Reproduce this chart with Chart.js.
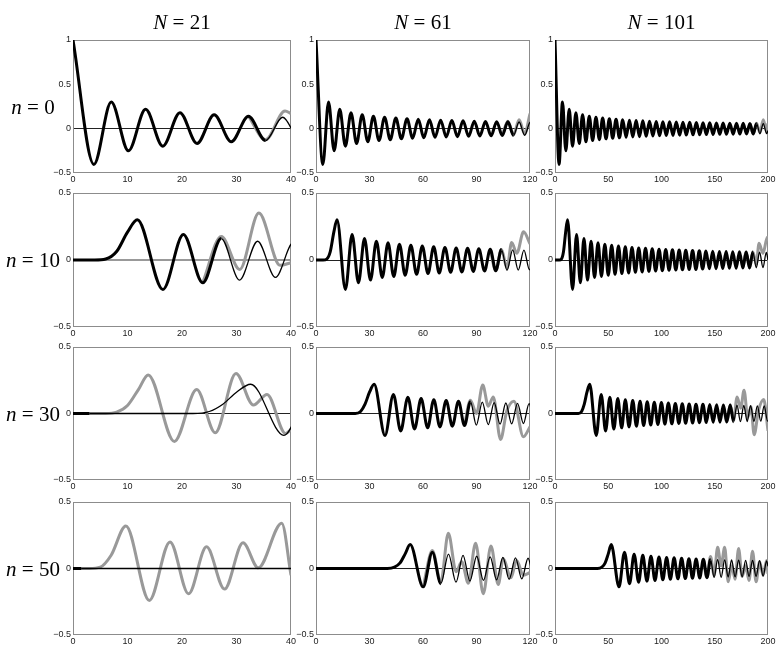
<!DOCTYPE html>
<html>
<head>
<meta charset="utf-8">
<script src="https://cdn.jsdelivr.net/npm/chart.js@4.4.1/dist/chart.umd.min.js"></script>
<style>
  body { margin: 0; background: #fff; width: 781px; height: 652px; position: relative; overflow: hidden; }
  canvas { position: absolute; }
  .lbl { position: absolute; font-family: "Liberation Serif", "DejaVu Serif", serif; font-size: 21px; color: #000; white-space: nowrap; transform: translate(-50%, -50%); }
  .lbl i { font-style: italic; }
</style>
</head>
<body>
<script>
// ------------------------
// Data: exact curves (black), read at their peaks / troughs
// ------------------------
const order0X = [0, 3.83, 7.02, 10.17, 13.32, 16.47, 19.62, 22.76, 25.9, 29.05, 32.19, 35.33, 38.47, 41.62, 44.76, 47.9, 51.04, 54.19, 57.33, 60.47, 63.61, 66.75, 69.9, 73.04, 76.18, 79.32, 82.46, 85.6, 88.75, 91.89, 95.03, 98.17, 101.31, 104.45, 107.6, 110.74, 113.88, 117.02, 120.16, 123.3, 126.45, 129.59, 132.73, 135.87, 139.01, 142.16, 145.3, 148.44, 151.58, 154.72, 157.86, 161.01, 164.15, 167.29, 170.43, 173.57, 176.72, 179.86, 183, 186.14, 189.28, 192.42, 195.57, 198.71, 200];
const order0Y = [1, -0.403, 0.3, -0.25, 0.218, -0.197, 0.18, -0.167, 0.157, -0.148, 0.141, -0.134, 0.129, -0.124, 0.119, -0.115, 0.112, -0.108, 0.105, -0.103, 0.1, -0.098, 0.095, -0.093, 0.091, -0.09, 0.088, -0.086, 0.085, -0.083, 0.082, -0.081, 0.079, -0.078, 0.077, -0.076, 0.075, -0.074, 0.073, -0.072, 0.071, -0.07, 0.069, -0.069, 0.068, -0.067, 0.066, -0.066, 0.065, -0.064, 0.064, -0.063, 0.062, -0.062, 0.061, -0.061, 0.06, -0.06, 0.059, -0.059, 0.058, -0.058, 0.057, -0.057, -0.02];

const order10X = [0, 4, 6, 8, 10, 11.8, 16.5, 20.25, 23.8, 27.2, 30.55, 33.87, 37.15, 40.4, 43.6, 46.8, 50, 53.2, 56.4, 59.6, 62.8, 66, 69.1, 72.3, 75.5, 78.6, 81.8, 85, 88.2, 91.3, 94.5, 97.7, 100.8, 104, 107.1, 110.3, 113.4, 116.6, 119.7, 122.8, 126, 129.2, 132.3, 135.5, 138.6, 141.8, 144.9, 148.1, 151.2, 154.4, 157.5, 160.7, 163.8, 166.9, 170.1, 173.2, 176.4, 179.5, 182.7, 185.8, 189, 192.1, 195.3, 198.4, 200];
const order10Y = [0, 0, 0.007, 0.063, 0.208, 0.3, -0.22, 0.19, -0.17, 0.16, -0.15, 0.14, -0.13, 0.128, -0.123, 0.118, -0.114, 0.11, -0.107, 0.104, -0.101, 0.099, -0.097, 0.094, -0.092, 0.09, -0.089, 0.087, -0.085, 0.084, -0.082, 0.081, -0.08, 0.078, -0.077, 0.076, -0.075, 0.074, -0.073, 0.072, -0.071, 0.07, -0.07, 0.069, -0.068, 0.067, -0.066, 0.066, -0.065, 0.064, -0.064, 0.063, -0.062, 0.062, -0.061, 0.061, -0.06, 0.06, -0.059, 0.059, -0.058, 0.058, -0.057, 0.057, 0];

const order30X = [0, 3, 22, 25, 27.5, 30, 32.6, 38.7, 43.4, 47.5, 51.5, 55.25, 58.95, 62.6, 66.05, 69.5, 73, 76.45, 79.9, 83.25, 86.6, 89.9, 93.25, 96.6, 99.9, 103.2, 106.45, 109.7, 113, 116.3, 119.5, 122.7, 126, 129.2, 132.4, 135.6, 138.9, 142.1, 145.3, 148.5, 151.75, 154.9, 158.1, 161.3, 164.5, 167.7, 170.9, 174.1, 177.3, 180.45, 183.6, 186.8, 190, 193.2, 196.4, 199.6, 200];
const order30Y = [0, 0, 0, 0.015, 0.07, 0.16, 0.22, -0.165, 0.143, -0.131, 0.123, -0.117, 0.112, -0.108, 0.104, -0.101, 0.098, -0.095, 0.093, -0.091, 0.089, -0.087, 0.085, -0.083, 0.082, -0.08, 0.079, -0.078, 0.076, -0.075, 0.074, -0.073, 0.072, -0.071, 0.07, -0.069, 0.069, -0.068, 0.067, -0.066, 0.065, -0.065, 0.064, -0.063, 0.063, -0.062, 0.062, -0.061, 0.06, -0.06, 0.059, -0.059, 0.058, -0.058, 0.057, -0.057, -0.052];

const order50X = [0, 1.5, 40, 44, 47, 50, 52.8, 60.1, 65.25, 70, 74.3, 78.5, 82.45, 86.3, 90.1, 93.9, 97.65, 101.27, 104.8, 108.3, 111.85, 115.4, 118.9, 122.37, 125.75, 129.1, 132.5, 135.9, 139.3, 142.7, 146, 149.4, 152.7, 156, 159.3, 162.6, 165.8, 169.1, 172.4, 175.7, 179, 182.2, 185.5, 188.8, 192.1, 195.4, 198.7, 200];
const order50Y = [0, 0, 0, 0.01, 0.04, 0.11, 0.18, -0.138, 0.123, -0.114, 0.108, -0.103, 0.099, -0.095, 0.092, -0.09, 0.087, -0.085, 0.083, -0.081, 0.08, -0.078, 0.077, -0.076, 0.074, -0.073, 0.072, -0.071, 0.07, -0.069, 0.068, -0.067, 0.066, -0.066, 0.065, -0.064, 0.064, -0.063, 0.062, -0.062, 0.061, -0.06, 0.06, -0.059, 0.059, -0.058, 0.058, 0.016];

// ------------------------
// Data: approximations (gray), where they part from the black curve
// ------------------------
const approx0N21X = [32.19, 35.33, 38.9, 40];
const approx0N21Y = [0.141, -0.125, 0.2, 0.17];
const approx0N61X = [104.45, 107.6, 110.74, 113.88, 117.02, 120];
const approx0N61Y = [-0.078, 0.085, -0.07, 0.1, -0.06, 0.17];
const approx0N101X = [183, 186.14, 189.28, 192.42, 195.57, 198.71, 200];
const approx0N101Y = [0.059, -0.059, 0.06, -0.045, 0.1, -0.03, 0.06];

const approx10N21X = [23.8, 27.2, 30.6, 34.1, 38, 40];
const approx10N21Y = [-0.17, 0.175, -0.07, 0.35, -0.04, -0.02];
const approx10N61X = [97.7, 100.8, 104, 107.1, 109.7, 112.6, 116.4, 120];
const approx10N61Y = [0.081, -0.08, 0.078, -0.06, 0.13, 0.05, 0.21, 0.12];
const approx10N101X = [176.4, 179.5, 182.7, 185.8, 189, 191.6, 195.3, 199.4, 200];
const approx10N101Y = [-0.06, 0.06, -0.059, 0.059, -0.03, 0.125, 0.05, 0.17, 0.14];

const approx30N21X = [0, 6, 8, 10, 12, 13.8, 18.6, 22.7, 26.1, 29.9, 33.1, 35.6, 39, 40];
const approx30N21Y = [0, 0, 0.01, 0.06, 0.18, 0.29, -0.21, 0.18, -0.145, 0.3, 0.063, 0.143, -0.15, -0.12];
const approx30N61X = [83.25, 86.6, 90, 93.5, 96.6, 99.4, 103.5, 107, 111, 116.3, 120];
const approx30N61Y = [-0.091, 0.1, 0, 0.215, 0.055, 0.125, -0.195, 0.02, 0.093, -0.175, -0.1];
const approx30N101X = [158.1, 161.3, 164.5, 167.7, 171, 174.4, 177.5, 181, 184, 187, 191, 196, 200];
const approx30N101Y = [0.064, -0.063, 0.063, -0.05, 0.125, 0.04, 0.175, -0.03, 0.05, -0.16, 0.02, 0.105, -0.13];

const approx50N21X = [0, 3, 5, 7, 9.7, 14, 17.8, 21.2, 24.5, 27.8, 31.2, 34, 38.3, 40];
const approx50N21Y = [0, 0, 0.01, 0.1, 0.32, -0.24, 0.2, -0.19, 0.163, -0.155, 0.193, 0.005, 0.34, -0.05];
const approx50N61X = [60.1, 65.25, 70, 74.2, 78.6, 81.7, 85.4, 89.5, 93.8, 98.1, 102.2, 105, 109.3, 112.5, 116.3, 120];
const approx50N61Y = [-0.138, 0.135, -0.1, 0.265, -0.025, 0.05, -0.11, 0.19, -0.19, 0.17, -0.12, 0.075, -0.07, 0.06, -0.05, -0.03];
const approx50N101X = [139.3, 142.7, 146, 149.4, 152.7, 156, 159.3, 162.6, 166, 169.1, 172.4, 175.7, 179, 182.2, 185.5, 188.8, 192.1, 195.4, 198.7, 200];
const approx50N101Y = [0.07, -0.069, 0.09, -0.05, 0.16, 0.02, 0.16, -0.1, 0.02, -0.08, 0.15, -0.06, 0.02, -0.09, 0.13, -0.1, 0.05, -0.05, 0.06, -0.04];

// ------------------------
// Labels and ticks
// ------------------------
const columnTitles = ['21', '61', '101'];
const rowTitles = ['0', '10', '30', '50'];
const xTicksN21 = [0, 10, 20, 30, 40];
const xTicksN61 = [0, 30, 60, 90, 120];
const xTicksN101 = [0, 50, 100, 150, 200];
const yTicksTop = [-0.5, 0, 0.5, 1];
const yTicksRest = [-0.5, 0, 0.5];

const exactX = [order0X, order10X, order30X, order50X];
const exactY = [order0Y, order10Y, order30Y, order50Y];
const approxX = [
    [approx0N21X, approx0N61X, approx0N101X],
    [approx10N21X, approx10N61X, approx10N101X],
    [approx30N21X, approx30N61X, approx30N101X],
    [approx50N21X, approx50N61X, approx50N101X]
];
const approxY = [
    [approx0N21Y, approx0N61Y, approx0N101Y],
    [approx10N21Y, approx10N61Y, approx10N101Y],
    [approx30N21Y, approx30N61Y, approx30N101Y],
    [approx50N21Y, approx50N61Y, approx50N101Y]
];
const xTicks = [xTicksN21, xTicksN61, xTicksN101];

// ------------------------
// Layout (pixels) and styling
// ------------------------
const colLeft = [73, 316, 555];
const colRight = [291, 530, 768];
const rowTop = [40, 193, 347, 502];
const rowBottom = [173, 327, 480, 635];
// black curve is drawn heavy up to this x, thin after it
const heavyUntil = [
    [35, 110, 188],
    [25, 104, 185],
    [3, 86, 165],
    [1.5, 66, 145]
];

const tickFont = { family: 'Liberation Sans, Arial, sans-serif', size: 9 };

function toPoints(xs, ys) {
    return xs.map((x, i) => ({ x: x, y: ys[i] }));
}

function fmt(v) {
    return String(v).replace('-', '\u2212');
}

const framePlugin = {
    id: 'frame',
    beforeDatasetsDraw(chart) {
        const a = chart.chartArea;
        const ctx = chart.ctx;
        ctx.save();
        ctx.strokeStyle = '#8c8c8c';
        ctx.lineWidth = 1;
        ctx.strokeRect(a.left + 0.5, a.top + 0.5, a.right - a.left - 1, a.bottom - a.top - 1);
        ctx.restore();
    }
};

function makePanel(r, c) {
    const padL = 30, padT = 8, padR = 14, padB = 16;
    const L = colLeft[c], R = colRight[c], T = rowTop[r], B = rowBottom[r];
    const cv = document.createElement('canvas');
    cv.width = R - L + padL + padR;
    cv.height = B - T + padT + padB;
    cv.style.left = (L - padL) + 'px';
    cv.style.top = (T - padT) + 'px';
    document.body.appendChild(cv);

    const heavy = heavyUntil[r][c];
    const yTicks = r === 0 ? yTicksTop : yTicksRest;
    // the n = 10, N = 21 panel shows its zero line in gray
    const zeroGray = (r === 1 && c === 0);

    new Chart(cv, {
        type: 'line',
        data: {
            datasets: [{
                data: toPoints(exactX[r], exactY[r]),
                borderColor: '#000',
                borderWidth: 1.3,
                cubicInterpolationMode: 'monotone',
                pointRadius: 0,
                order: 1,
                segment: {
                    borderWidth: ctx => ctx.p0.parsed.x < heavy ? 3 : 1.3
                }
            }, {
                data: toPoints(approxX[r][c], approxY[r][c]),
                borderColor: '#999999',
                borderWidth: 3,
                cubicInterpolationMode: 'monotone',
                pointRadius: 0,
                order: 2
            }]
        },
        options: {
            responsive: false,
            animation: false,
            devicePixelRatio: 1,
            layout: { padding: { left: 0, top: padT, right: padR, bottom: 2 } },
            plugins: { legend: { display: false }, tooltip: { enabled: false } },
            scales: {
                x: {
                    type: 'linear',
                    min: 0,
                    max: xTicks[c][xTicks[c].length - 1],
                    afterFit: s => { s.height = padB - 2; },
                    afterBuildTicks: s => { s.ticks = xTicks[c].map(v => ({ value: v })); },
                    ticks: { font: tickFont, color: '#222', padding: 1, maxRotation: 0, autoSkip: false, callback: v => fmt(v) },
                    grid: { display: false, drawTicks: false },
                    border: { display: false }
                },
                y: {
                    type: 'linear',
                    min: -0.5,
                    max: yTicks[yTicks.length - 1],
                    afterFit: s => { s.width = padL; },
                    afterBuildTicks: s => { s.ticks = yTicks.map(v => ({ value: v })); },
                    ticks: { font: tickFont, color: '#222', padding: 2, callback: v => fmt(v) },
                    grid: {
                        drawTicks: false,
                        lineWidth: ctx => (zeroGray ? 2 : 1),
                        color: ctx => (ctx.tick && ctx.tick.value === 0) ? (zeroGray ? '#999999' : '#222') : 'rgba(0,0,0,0)'
                    },
                    border: { display: false }
                }
            }
        },
        plugins: [framePlugin]
    });
}

function addLabel(text, varName, x, y) {
    const d = document.createElement('div');
    d.className = 'lbl';
    d.innerHTML = '<i>' + varName + '</i> = ' + text;
    d.style.left = x + 'px';
    d.style.top = y + 'px';
    document.body.appendChild(d);
}

document.addEventListener('DOMContentLoaded', () => {
    for (let r = 0; r < 4; r++) {
        for (let c = 0; c < 3; c++) {
            makePanel(r, c);
        }
    }
    columnTitles.forEach((t, c) => addLabel(t, 'N', (colLeft[c] + colRight[c]) / 2, 22));
    rowTitles.forEach((t, r) => addLabel(t, 'n', 33, (rowTop[r] + rowBottom[r]) / 2));
});
</script>
</body>
</html>
